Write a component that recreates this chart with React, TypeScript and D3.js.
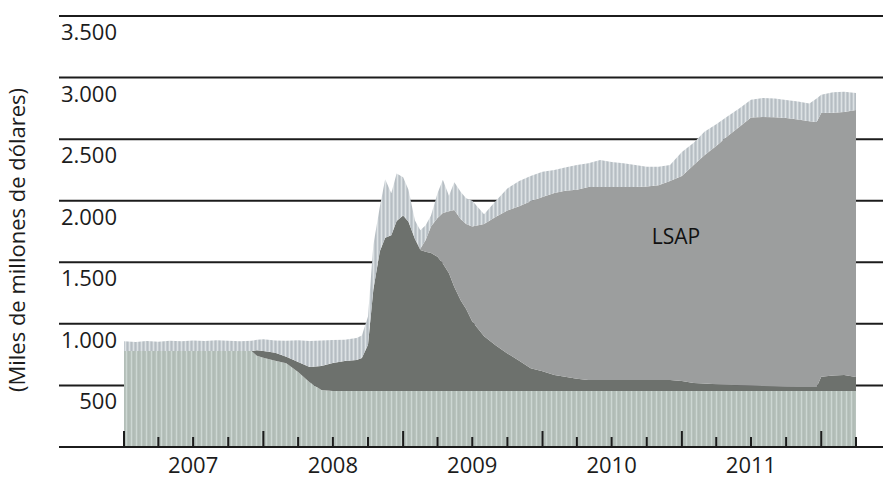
import * as d3 from "d3";

// Balance de la Reserva Federal, miles de millones de dólares
const dates = [
  "2007-01-01", "2007-02-01", "2007-03-01", "2007-04-01", "2007-05-01", "2007-06-01",
  "2007-07-01", "2007-08-01", "2007-09-01", "2007-10-01", "2007-11-01", "2007-12-01", "2007-12-15",
  "2008-01-01", "2008-02-01", "2008-03-01", "2008-04-01", "2008-05-01", "2008-06-01",
  "2008-07-01", "2008-08-01", "2008-09-01", "2008-09-15", "2008-10-01", "2008-10-15",
  "2008-11-01", "2008-11-15", "2008-12-01", "2008-12-15",
  "2009-01-01", "2009-01-15", "2009-02-01", "2009-02-15", "2009-03-01", "2009-03-15",
  "2009-04-01", "2009-04-15", "2009-05-01", "2009-05-15", "2009-06-01", "2009-06-15",
  "2009-07-01", "2009-08-01", "2009-09-01", "2009-10-01", "2009-11-01", "2009-12-01",
  "2010-01-01", "2010-02-01", "2010-03-01", "2010-04-01", "2010-05-01", "2010-06-01",
  "2010-07-01", "2010-08-01", "2010-09-01", "2010-10-01", "2010-11-01", "2010-12-01",
  "2011-01-01", "2011-02-01", "2011-03-01", "2011-04-01", "2011-05-01", "2011-06-01",
  "2011-07-01", "2011-08-01", "2011-09-01", "2011-10-01", "2011-11-01", "2011-12-01", "2011-12-20",
  "2012-01-01", "2012-02-01", "2012-03-01", "2012-04-01",
];

const traditional = [
  780, 780, 780, 780, 780, 780, 780, 780, 780, 780, 780, 780, 740,
  725, 700, 680, 610, 525, 462, 455, 455, 455, 455, 455, 455, 455, 455, 455, 455,
  455, 455, 455, 455, 455, 455, 455, 455, 455, 455, 455, 455, 455, 455, 455, 455, 455, 455,
  455, 455, 455, 455, 455, 455, 455, 455, 455, 455, 455, 455,
  455, 455, 455, 455, 455, 455, 455, 455, 455, 455, 455, 455, 455,
  455, 455, 455, 455,
];

const lending = [
  0, 0, 0, 0, 0, 0, 0, 0, 0, 0, 0, 0, 45,
  55, 65, 52, 80, 125, 196, 227, 243, 252, 268, 375, 825, 1135, 1245, 1265, 1380,
  1425, 1375, 1235, 1145, 1130, 1120, 1090, 1035, 955, 845, 735, 665, 565, 445, 370, 305, 245, 185,
  160, 130, 115, 100, 89, 89, 89, 89, 89, 89, 89, 89,
  80, 65, 60, 55, 50, 45, 43, 40, 38, 35, 33, 32, 32,
  115, 125, 130, 113,
];

const lsap = [
  0, 0, 0, 0, 0, 0, 0, 0, 0, 0, 0, 0, 0,
  0, 0, 0, 0, 0, 0, 0, 0, 0, 0, 0, 0, 0, 0, 0, 0,
  0, 0, 0, 10, 95, 215, 315, 410, 505, 625, 660, 690, 770, 910, 1045, 1160, 1255, 1355,
  1415, 1478, 1510, 1535, 1567, 1567, 1567, 1567, 1567, 1571, 1581, 1616,
  1665, 1770, 1855, 1935, 2020, 2100, 2177, 2185, 2185, 2182, 2172, 2158, 2153,
  2142, 2135, 2136, 2169,
];

const other = [
  78, 72, 80, 75, 82, 78, 84, 80, 86, 82, 78, 82, 85,
  95, 100, 130, 176, 210, 206, 186, 172, 178, 182, 230, 360, 360, 475, 340, 385,
  310, 260, 150, 150, 120, 90, 200, 270, 125, 225, 220, 210, 210, 80, 130, 180, 205, 205,
  205, 187, 190, 200, 194, 219, 204, 194, 179, 160, 150, 130,
  195, 180, 190, 175, 160, 150, 145, 155, 152, 146, 145, 145, 190,
  148, 165, 164, 138,
];

const yTickValues = [500, 1000, 1500, 2000, 2500, 3000, 3500];
const yearLabels = ["2007", "2008", "2009", "2010", "2011"];

const keys = ["traditional", "lending", "lsap", "other"];
const fills: Record<string, string> = {
  traditional: "url(#pat-traditional)",
  lending: "#6d716d",
  lsap: "#9c9e9e",
  other: "url(#pat-other)",
};

const width = 892;
const height = 478;
const gridLeft = 59;
const gridRight = 883;
const font = "'Open Sans', 'DejaVu Sans', sans-serif";

const parse = d3.timeParse("%Y-%m-%d");
const rows = dates.map((d, i) => ({
  date: parse(d) as Date,
  traditional: traditional[i],
  lending: lending[i],
  lsap: lsap[i],
  other: other[i],
}));

const esFormat = d3.formatLocale({
  decimal: ",",
  thousands: ".",
  grouping: [3],
  currency: ["", ""],
}).format(",");

export default function App() {
  const x = d3.scaleTime(
    [new Date(2007, 0, 1), new Date(2012, 3, 1)],
    [124, 856]
  );
  const y = d3.scaleLinear([0, 3500], [447, 16]);

  const series = d3.stack<any>().keys(keys)(rows);
  const area = d3.area<any>()
    .x(d => x(d.data.date))
    .y0(d => y(d[0]))
    .y1(d => y(d[1]))
    .curve(d3.curveLinear);

  const quarters = d3.timeMonth.every(3)!.range(new Date(2007, 0, 1), new Date(2012, 3, 2));

  return (
    <svg
      width={width}
      height={height}
      style={{ position: "absolute", left: 0, top: 0, background: "white" }}
    >
      <defs>
        <pattern id="pat-traditional" width="5" height="12" patternUnits="userSpaceOnUse">
          <rect width="5" height="12" fill="#b8c3bd" />
          <rect x="1" width="1" height="12" fill="#cdd7d3" />
          <rect x="3.5" width="0.8" height="12" fill="#a8b4ae" />
        </pattern>
        <pattern id="pat-other" width="4" height="12" patternUnits="userSpaceOnUse">
          <rect width="4" height="12" fill="#c3cacf" />
          <rect x="1" width="1" height="12" fill="#dde2e4" />
          <rect x="3" width="0.7" height="12" fill="#b1b8bd" />
        </pattern>
      </defs>

      {/* Gridlines behind the areas */}
      {yTickValues.map(v => (
        <line
          key={`grid-${v}`}
          x1={gridLeft}
          x2={gridRight}
          y1={y(v)}
          y2={y(v)}
          stroke="#1c1c1c"
          strokeWidth={2}
        />
      ))}

      {/* Stacked areas */}
      {series.map(s => (
        <path key={s.key} d={area(s) as string} fill={fills[s.key]} />
      ))}

      {/* X axis */}
      <line x1={gridLeft} x2={gridRight} y1={y(0)} y2={y(0)} stroke="#1c1c1c" strokeWidth={2} />
      {quarters.map(q => (
        <line
          key={q.toISOString()}
          x1={x(q)}
          x2={x(q)}
          y1={y(0)}
          y2={y(0) - (q.getMonth() === 0 ? 16 : 10)}
          stroke="#1c1c1c"
          strokeWidth={2}
        />
      ))}
      {yearLabels.map(yr => (
        <text
          key={yr}
          x={x(new Date(+yr, 6, 1))}
          y={473}
          textAnchor="middle"
          fontSize={22}
          fontFamily={font}
          fill="#1c1c1c"
        >
          {yr}
        </text>
      ))}

      {/* Y labels, below each gridline */}
      {yTickValues.map(v => (
        <text
          key={`lbl-${v}`}
          x={117}
          y={y(v) + 24}
          textAnchor="end"
          fontSize={22}
          fontFamily={font}
          fill="#1c1c1c"
        >
          {esFormat(v)}
        </text>
      ))}

      <text
        transform="translate(25,240) rotate(-90)"
        textAnchor="middle"
        fontSize={22}
        fontFamily={font}
        fill="#1c1c1c"
      >
        (Miles de millones de dólares)
      </text>

      <text
        x={676}
        y={244}
        textAnchor="middle"
        fontSize={21}
        fontFamily={font}
        fill="#111"
      >
        LSAP
      </text>
    </svg>
  );
}
